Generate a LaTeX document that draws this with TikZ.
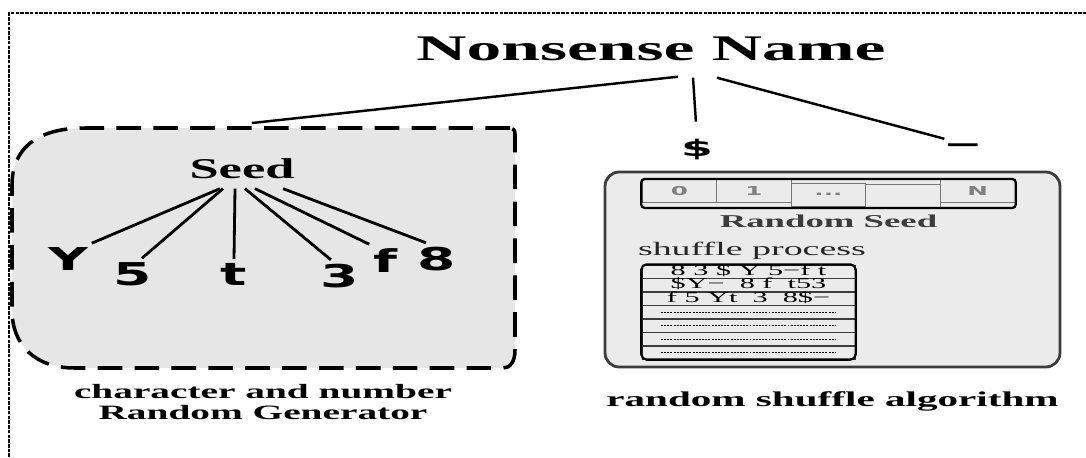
\documentclass[tikz,border=0pt]{standalone}
\usepackage{fontspec}
\setmainfont{Liberation Serif}
\newfontfamily\glyphfont{DejaVu Sans}
\usepackage{tikz}
\usetikzlibrary{matrix, positioning, calc}
\usepackage{xcolor}

\definecolor{boxgray}{HTML}{E6E6E6}
\definecolor{panelgray}{HTML}{EBEBEB}
\definecolor{inkgray}{HTML}{3C3C3C}

% the source picture is stretched sideways
\newcommand{\wide}[2][2]{\scalebox{#1}[1]{#2}}

\begin{document}
\begin{tikzpicture}[x=0.02cm, y=-0.02cm,
  every node/.style={inner sep=0pt},
  heading/.style={font=\fontsize{20.5}{24}\selectfont\bfseries},
  caption/.style={font=\fontsize{11.6}{12}\selectfont\bfseries, align=center},
  glyph/.style={font=\glyphfont\fontsize{17.9}{20}\selectfont\bfseries, inner sep=2pt, anchor=base},
  branch/.style={line width=1.4pt},
  cell/.style={draw=inkgray!70, line width=0.5pt, minimum width=1.492cm,
               minimum height=0.46cm, text=gray,
               font=\glyphfont\fontsize{7}{8}\selectfont\bfseries},
  rowcell/.style={draw=inkgray, line width=0.4pt, minimum width=4.26cm,
                  minimum height=0.256cm, text height=5.2pt, text depth=1pt,
                  font=\fontsize{8.6}{9}\selectfont},
  dotrow/.style={line width=0.5pt, dash pattern=on 1.1pt off 0.7pt}]
\useasboundingbox (0,0) rectangle (1086,457);

% page frame
\draw[line width=0.6pt, dash pattern=on 2pt off 0.7pt] (9,457) -- (9,13) -- (1086,13);

% generator box
\draw[fill=boxgray, line width=2pt, dash pattern=on 14pt off 7pt]
  (510,128) -- (85,128) .. controls (35,128) and (12,150) .. (12,185)
  -- (12,310) .. controls (12,345) and (35,368) .. (75,368)
  -- (503,368) .. controls (510,368) and (515,362) .. (515,350)
  -- (515,134) .. controls (515,130) and (513,128) .. (510,128) -- cycle;
\coordinate (gentop) at (252,123);

\node (title) [heading, anchor=base] at (651,60) {\wide[1.93]{Nonsense Name}};
\node (dollar) [font=\glyphfont\fontsize{13}{14}\selectfont\bfseries] at (697,149) {\wide[2]{\$}};
\node (dash) [font=\glyphfont\fontsize{13}{14}\selectfont\bfseries] at (963,148) {\wide[1.45]{—}};

\draw[branch] ($(title.south)+(27,16)$) -- (gentop);
\draw[branch, shorten >=9.5pt] ($(title.south)+(42,17)$) -- (dollar.north);
\draw[branch, shorten >=11pt] ($(title.south)+(66,17)$) -- (dash.north);

% seed and its characters
\node (seed) [font=\fontsize{16.3}{18}\selectfont\bfseries, anchor=base] at (242,178) {\wide[1.83]{Seed}};
\node (lY) [glyph] at (68,270) {\wide[1.75]{Y}};
\node (l5) [glyph] at (133,285) {\wide[1.75]{5}};
\node (lt) [glyph] at (234,285) {\wide[1.75]{t}};
\node (l3) [glyph] at (340,287) {\wide[1.75]{3}};
\node (lf) [glyph] at (385,272) {\wide[1.75]{f}};
\node (l8) [glyph] at (437,270) {\wide[1.75]{8}};

\foreach \dx/\leaf in {-22/lY.north east, -19/l5.60, -7/lt.north,
                       3/l3.120, 13/lf.north west, 41/l8.125}
  \draw[branch, line width=1.6pt] ($(seed.south)+(\dx,10)$) -- (\leaf);

\node (genlbl) [caption, anchor=north] at (263,384)
  {\wide[1.93]{character and number}\\\wide[1.93]{Random Generator}};

% shuffle panel
\node (shufbox) [draw=inkgray, line width=1.6pt, fill=panelgray, rounded corners=8pt,
                 minimum width=9.1cm, minimum height=3.9cm] at (832.5,269.5) {};

\matrix (arr) [matrix of nodes, nodes in empty cells, column sep=-0.5pt, nodes={cell}]
  at (828.5,193.5)
{
\wide{0} & \wide{1} & \wide{...} & & \wide{N} \\
};
\draw[line width=1.3pt, rounded corners=2pt] (arr.north west) rectangle (arr.south east);

\node (seedlbl) [below=3.7pt of arr, font=\fontsize{10.3}{12}\selectfont\bfseries,
                 text=inkgray] {\wide[2.03]{Random Seed}};
\node (proclbl) [font=\fontsize{10.8}{12}\selectfont, text=black!85, anchor=base]
  at (752,255) {\wide[2]{shuffle process}};

\matrix (shuf) [matrix of nodes, nodes in empty cells, row sep=0pt, nodes={rowcell}]
  at (748.5,312)
{
\wide[2]{8 3 \$ Y 5−f t} \\
\wide[2]{\$Y−\ \ 8 f\ \ t53} \\
\wide[2]{f 5 Yt\ \ 3\ \ 8\$−} \\
{} \\
{} \\
{} \\
{} \\
};
\draw[line width=1.3pt, rounded corners=3pt] (shuf.north west) rectangle (shuf.south east);
\foreach \r in {4,...,7}
  \draw[dotrow] ([xshift=11pt]shuf-\r-1.west) -- ([xshift=-11pt]shuf-\r-1.east);

\node (shuflbl) [below=13pt of shufbox, font=\fontsize{12}{14}\selectfont\bfseries]
  {\wide[1.95]{random shuffle algorithm}};
\end{tikzpicture}
\end{document}
